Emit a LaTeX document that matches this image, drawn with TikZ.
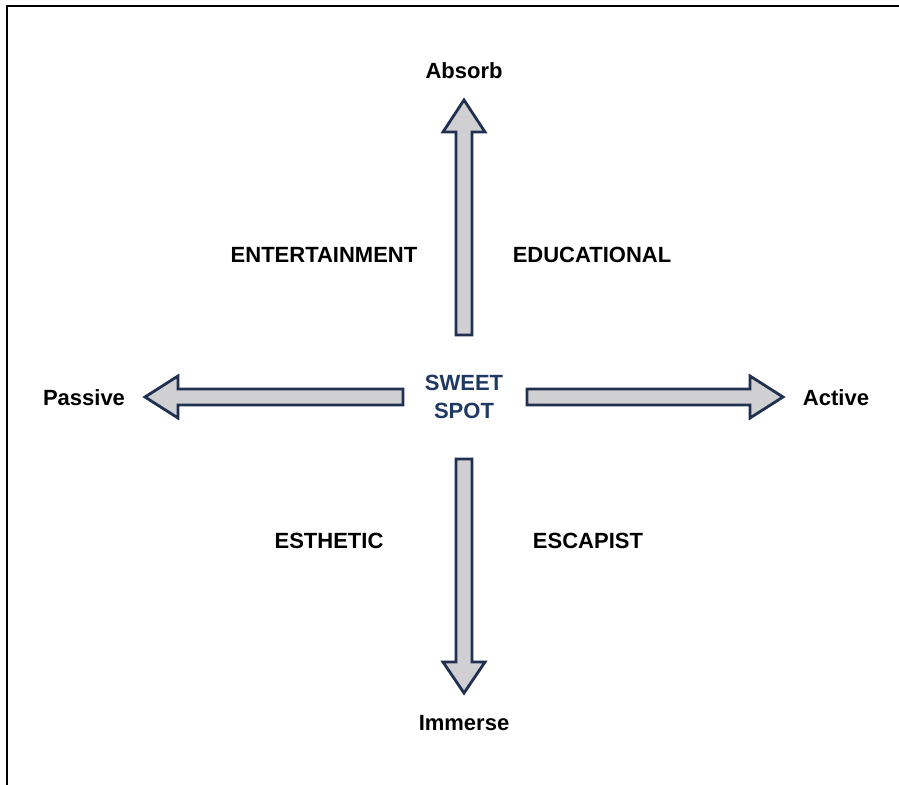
\documentclass[tikz,border=0pt]{standalone}
\usepackage{fontspec}
\setmainfont{Liberation Sans}
\definecolor{navy}{HTML}{1F3050}
\definecolor{spotblue}{HTML}{1F3864}
\definecolor{shaftgray}{HTML}{D0D0D3}
\begin{document}
\begin{tikzpicture}[x=1pt,y=-1pt,
  lbl/.style={font=\fontsize{22}{26}\selectfont\bfseries, inner sep=0pt, anchor=center},
  blockarrow/.style={draw=navy, fill=shaftgray, line width=2.8pt, line join=miter},
  frame/.style={draw=black, line width=2.2pt}]
\useasboundingbox (0,0) rectangle (899,784);

% outer frame (only top and left edges fall inside the page)
\draw[frame] (7,790) -- (7,6) -- (905,6);

% four block arrows from the centre outwards
\draw[blockarrow] (456,335) -- (456,132) -- (443,132) -- (464,100) -- (485,132) -- (472,132) -- (472,335) -- cycle;
\draw[blockarrow] (456,459) -- (456,662) -- (443,662) -- (464,693) -- (485,662) -- (472,662) -- (472,459) -- cycle;
\draw[blockarrow] (403,389) -- (178,389) -- (178,376) -- (145,397) -- (178,418) -- (178,405) -- (403,405) -- cycle;
\draw[blockarrow] (527,389) -- (750,389) -- (750,376) -- (783,397) -- (750,418) -- (750,405) -- (527,405) -- cycle;

% axis ends
\node[lbl] (absorb) at (464,71) {Absorb};
\node[lbl] (immerse) at (464,723) {Immerse};
\node[lbl] (passive) at (84,398) {Passive};
\node[lbl] (active) at (836,398) {Active};

% quadrants
\node[lbl] (entertain) at (324,255) {ENTERTAINMENT};
\node[lbl] (educ) at (592,255) {EDUCATIONAL};
\node[lbl] (esth) at (329,541) {ESTHETIC};
\node[lbl] (escap) at (588,541) {ESCAPIST};

% centre
\node[lbl, text=spotblue] (sweet) at (464,383) {SWEET};
\node[lbl, text=spotblue] (spot) at (464,411) {SPOT};
\end{tikzpicture}
\end{document}
